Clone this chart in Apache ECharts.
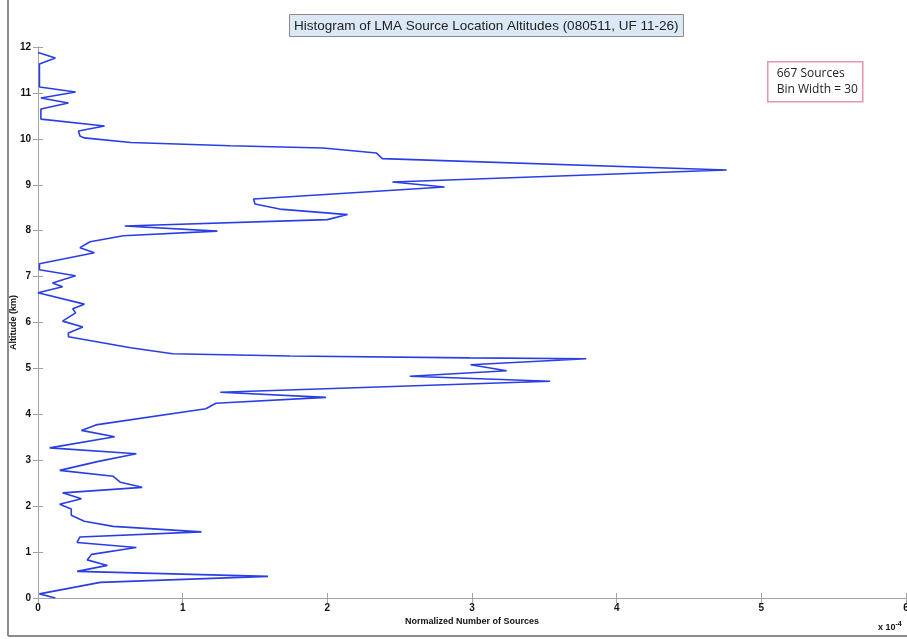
<!DOCTYPE html>
<html>
<head>
<meta charset="utf-8">
<script src="https://cdn.jsdelivr.net/npm/echarts@6/dist/echarts.min.js"></script>
<style>
  html, body { margin: 0; padding: 0; background: #fff; }
  #chart { width: 907px; height: 639px; }
</style>
</head>
<body>
<div id="chart"></div>
<script>
// normalized number of sources (units of 1e-4), traced top to bottom
const normSources = [
  0.00, 0.12, 0.01, 0.01, 0.26, 0.02, 0.21, 0.02, 0.02, 0.46,
  0.28, 0.29, 0.32, 0.64, 1.33, 1.97, 2.34, 2.38, 4.76, 2.45,
  2.81, 1.49, 1.50, 1.67, 2.14, 2.00, 0.60, 1.24, 0.59, 0.36,
  0.29, 0.39, 0.01, 0.01, 0.26, 0.10, 0.17, 0.00, 0.32, 0.24,
  0.26, 0.17, 0.31, 0.21, 0.21, 0.64, 0.93, 1.74, 2.98, 3.79,
  2.99, 3.24, 2.57, 3.54, 1.26, 1.99, 1.23, 1.16, 0.40, 0.30,
  0.53, 0.08, 0.68, 0.41, 0.15, 0.52, 0.57, 0.72, 0.17, 0.30,
  0.15, 0.23, 0.23, 0.32, 0.52, 1.13, 0.29, 0.27, 0.68, 0.37,
  0.34, 0.48, 0.27, 1.59, 0.43, 0.01, 0.12
]
// altitude (km) of each traced vertex
const altitudeKm = [
  11.88, 11.76, 11.63, 11.13, 11.02, 10.89, 10.78, 10.65, 10.43, 10.28,
  10.17, 10.06, 10.02, 9.92, 9.85, 9.80, 9.69, 9.57, 9.32, 9.06,
  8.95, 8.69, 8.58, 8.47, 8.35, 8.24, 8.10, 7.99, 7.89, 7.76,
  7.63, 7.52, 7.28, 7.15, 7.02, 6.86, 6.78, 6.65, 6.40, 6.30,
  6.21, 6.03, 5.90, 5.77, 5.69, 5.45, 5.32, 5.27, 5.23, 5.21,
  5.08, 4.95, 4.83, 4.72, 4.48, 4.37, 4.24, 4.12, 3.77, 3.65,
  3.51, 3.27, 3.14, 2.97, 2.78, 2.65, 2.52, 2.41, 2.29, 2.16,
  2.04, 1.94, 1.80, 1.67, 1.56, 1.44, 1.33, 1.21, 1.10, 0.95,
  0.83, 0.71, 0.58, 0.47, 0.34, 0.09, 0.00
]
const titleText = 'Histogram of LMA Source Location Altitudes (080511, UF 11-26)'
const noteLines = ['667 Sources', 'Bin Width = 30']

const axisGray = '#a3a3a3'
const tickStyle = { inside: true, length: 5, lineStyle: { color: axisGray } }
const labelStyle = {
  color: '#111',
  fontWeight: 'bold',
  fontSize: 10,
  fontFamily: 'Liberation Sans, Arial, sans-serif',
}

const chart = echarts.init(document.getElementById('chart'))
const points = altitudeKm.map((alt, i) => [normSources[i], alt])

chart.setOption({
  animation: false,
  backgroundColor: '#fff',
  title: {
    text: titleText,
    left: 289,
    top: 14,
    padding: [5, 5, 4, 5],
    backgroundColor: '#dbe8f6',
    borderColor: '#8a8a8a',
    borderWidth: 1,
    textStyle: {
      fontSize: 13.5,
      fontWeight: 'normal',
      color: '#222',
      fontFamily: 'Liberation Sans, Arial, sans-serif',
    },
  },
  grid: { left: 38, top: 47, right: 1, bottom: 41, containLabel: false, outerBoundsMode: 'none' },
  xAxis: [
    {
      type: 'value',
      min: 0,
      max: 6,
      interval: 1,
      position: 'bottom',
      name: 'Normalized Number of Sources',
      nameLocation: 'middle',
      nameGap: 19,
      nameMoveOverlap: false,
      nameTextStyle: { ...labelStyle, fontSize: 9 },
      axisLine: { lineStyle: { color: axisGray } },
      axisTick: tickStyle,
      axisLabel: { ...labelStyle, margin: 5 },
      splitLine: { show: false },
    },
    {
      type: 'value',
      min: 0,
      max: 6,
      interval: 1,
      position: 'top',
      axisLine: { show: true, lineStyle: { color: axisGray } },
      axisTick: tickStyle,
      axisLabel: { show: false },
      splitLine: { show: false },
    },
  ],
  yAxis: [
    {
      type: 'value',
      min: 0,
      max: 12,
      interval: 1,
      position: 'left',
      name: 'Altitude (km)',
      nameLocation: 'middle',
      nameGap: 20,
      nameMoveOverlap: false,
      nameTextStyle: { ...labelStyle, fontSize: 9 },
      axisLine: { show: true, lineStyle: { color: axisGray } },
      axisTick: tickStyle,
      axisLabel: { ...labelStyle, margin: 7 },
      splitLine: { show: false },
    },
    {
      type: 'value',
      min: 0,
      max: 12,
      interval: 1,
      position: 'right',
      axisLine: { show: true, lineStyle: { color: axisGray } },
      axisTick: tickStyle,
      axisLabel: { show: false },
      splitLine: { show: false },
    },
  ],
  series: [
    {
      type: 'line',
      data: points,
      showSymbol: false,
      lineStyle: { color: '#2a3ee6', width: 1.6 },
      z: 3,
    },
  ],
  graphic: [
    // outer figure frame (left and bottom edges)
    { type: 'line', shape: { x1: 8, y1: 0, x2: 8, y2: 636 }, style: { stroke: '#8c8c8c', lineWidth: 2 } },
    { type: 'line', shape: { x1: 8, y1: 636, x2: 907, y2: 636 }, style: { stroke: '#8c8c8c', lineWidth: 2 } },
    // annotation box
    {
      type: 'group',
      left: 767,
      top: 61,
      children: [
        {
          type: 'rect',
          shape: { x: 0, y: 0, width: 95, height: 40 },
          style: { fill: '#fff', stroke: '#e596a6', lineWidth: 1.5 },
        },
        {
          type: 'text',
          x: 9,
          y: 4,
          style: {
            text: noteLines.join('\n'),
            fontSize: 12,
            lineHeight: 16,
            fill: '#222',
            fontFamily: 'Open Sans, sans-serif',
          },
        },
      ],
    },
    // axis exponent
    {
      type: 'text',
      left: 878,
      top: 621,
      style: {
        text: '{a|x 10}{b|-4}',
        rich: {
          a: { fontSize: 9, fontWeight: 'bold', fill: '#111', padding: [6, 0, 0, 0] },
          b: { fontSize: 7, fontWeight: 'bold', fill: '#111' },
        },
      },
    },
  ],
})
</script>
</body>
</html>
